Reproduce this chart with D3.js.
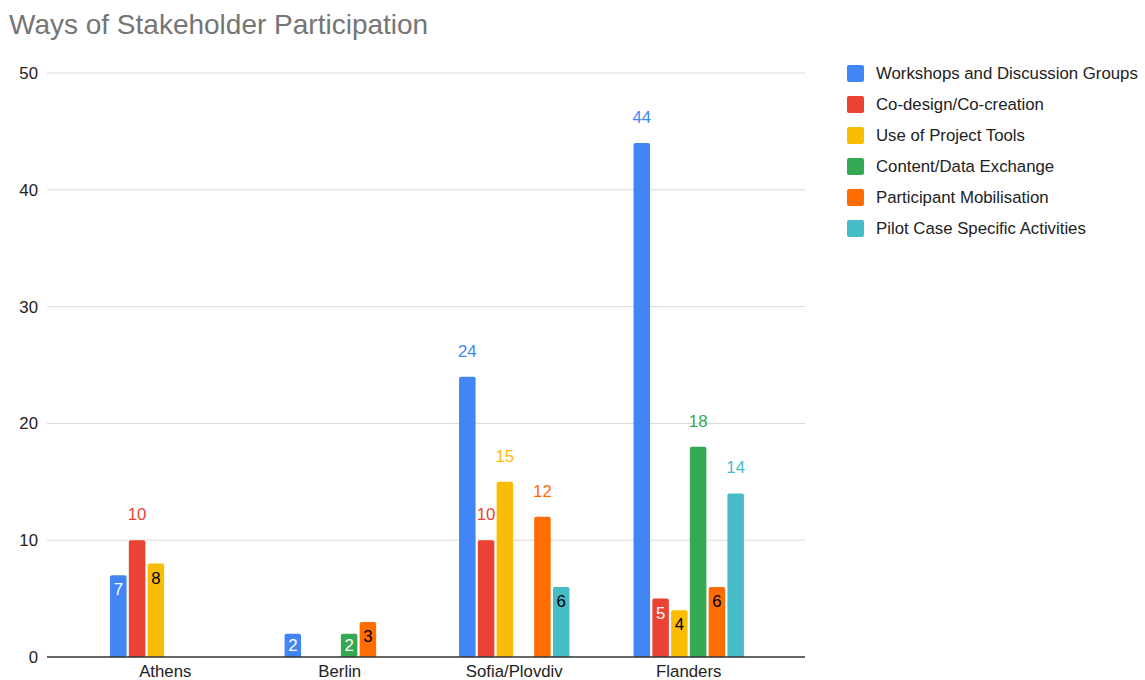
<!DOCTYPE html>
<html>
<head>
<meta charset="utf-8">
<script src="https://cdn.jsdelivr.net/npm/d3@7"></script>
<style>
    body { margin: 0; background: #fff; }
    svg { font-family: Arial, "Liberation Sans", sans-serif; }
</style>
</head>
<body>
<div id="chart"></div>
<script>
// Data
const categories = ["Athens", "Berlin", "Sofia/Plovdiv", "Flanders"];
const seriesNames = [
    "Workshops and Discussion Groups",
    "Co-design/Co-creation",
    "Use of Project Tools",
    "Content/Data Exchange",
    "Participant Mobilisation",
    "Pilot Case Specific Activities"
];
const workshops = [7, 2, 24, 44];
const codesign = [10, 0, 10, 5];
const projectTools = [8, 0, 15, 4];
const dataExchange = [0, 2, 0, 18];
const mobilisation = [0, 3, 12, 6];
const pilotCase = [0, 0, 6, 14];
const yTicks = [0, 10, 20, 30, 40, 50];

const seriesValues = [workshops, codesign, projectTools, dataExchange, mobilisation, pilotCase];
const colors = ["#4285f4", "#ea4335", "#fbbc04", "#34a853", "#ff6d01", "#46bdc6"];
const insideText = ["#fff", "#fff", "#000", "#fff", "#000", "#000"];

// Dimensions
const width = 1145, height = 680;
const gridLeft = 47, gridRight = 805;
const plotTop = 73, plotBottom = 657;
const fontSize = 16.8;

const svg = d3.select("#chart").append("svg")
    .attr("width", width)
    .attr("height", height);

// Title
svg.append("text")
    .attr("x", 9)
    .attr("y", 34)
    .attr("fill", "#757575")
    .attr("font-size", 28)
    .text("Ways of Stakeholder Participation");

// Scales
const y = d3.scaleLinear().domain([0, 50]).range([plotBottom, plotTop]);
const x0 = d3.scaleBand().domain(categories).range([78, 776]);
const groupWidth = 110.4;
const x1 = d3.scaleBand()
    .domain(d3.range(seriesNames.length))
    .range([x0.bandwidth() / 2 - groupWidth / 2, x0.bandwidth() / 2 + groupWidth / 2])
    .paddingInner(0.12);

// Gridlines + y labels
const grid = svg.append("g");
grid.selectAll("line")
    .data(yTicks.filter(d => d > 0))
    .enter()
    .append("line")
        .attr("x1", gridLeft)
        .attr("x2", gridRight)
        .attr("y1", d => y(d))
        .attr("y2", d => y(d))
        .attr("stroke", "#d9d9d9")
        .attr("stroke-width", 1);

grid.selectAll("text")
    .data(yTicks)
    .enter()
    .append("text")
        .attr("x", 38)
        .attr("y", d => y(d) + 6)
        .attr("text-anchor", "end")
        .attr("font-size", fontSize)
        .attr("fill", "#222")
        .text(d => d);

// Bars
const rows = [];
categories.forEach((c, ci) => {
    seriesValues.forEach((vals, si) => {
        if (vals[ci] > 0) rows.push({ cat: c, s: si, v: vals[ci] });
    });
});

const barR = 2;
svg.append("g").selectAll("path")
    .data(rows)
    .enter()
    .append("path")
        .attr("d", d => {
            const bx = x0(d.cat) + x1(d.s), bw = x1.bandwidth();
            const top = y(d.v), bottom = y(0);
            return `M${bx},${bottom} V${top + barR} Q${bx},${top} ${bx + barR},${top}
                H${bx + bw - barR} Q${bx + bw},${top} ${bx + bw},${top + barR} V${bottom} Z`;
        })
        .attr("fill", d => colors[d.s]);

// Value labels (short bars get the label inside)
svg.append("g").selectAll("text")
    .data(rows)
    .enter()
    .append("text")
        .attr("x", d => x0(d.cat) + x1(d.s) + x1.bandwidth() / 2)
        .attr("y", d => {
            const top = y(d.v);
            if (d.v < 10) return Math.min(top + 14, (top + y(0)) / 2) + 6;
            return top - 26 + 6;
        })
        .attr("text-anchor", "middle")
        .attr("font-size", fontSize)
        .attr("fill", d => d.v < 10 ? insideText[d.s] : colors[d.s])
        .text(d => d.v);

// Baseline
svg.append("line")
    .attr("x1", gridLeft)
    .attr("x2", gridRight)
    .attr("y1", y(0))
    .attr("y2", y(0))
    .attr("stroke", "#333")
    .attr("stroke-width", 1.5);

// X labels
svg.append("g").selectAll("text")
    .data(categories)
    .enter()
    .append("text")
        .attr("x", d => x0(d) + x0.bandwidth() / 2)
        .attr("y", 677)
        .attr("text-anchor", "middle")
        .attr("font-size", fontSize)
        .attr("fill", "#222")
        .text(d => d);

// Legend
const legend = svg.append("g").selectAll("g")
    .data(seriesNames)
    .enter()
    .append("g")
        .attr("transform", (d, i) => `translate(847, ${73 + i * 31})`);

legend.append("rect")
    .attr("x", 0)
    .attr("y", -8)
    .attr("width", 17)
    .attr("height", 17)
    .attr("rx", 2)
    .attr("fill", (d, i) => colors[i]);

legend.append("text")
    .attr("x", 29)
    .attr("y", 6)
    .attr("font-size", fontSize)
    .attr("fill", "#222")
    .text(d => d);
</script>
</body>
</html>
